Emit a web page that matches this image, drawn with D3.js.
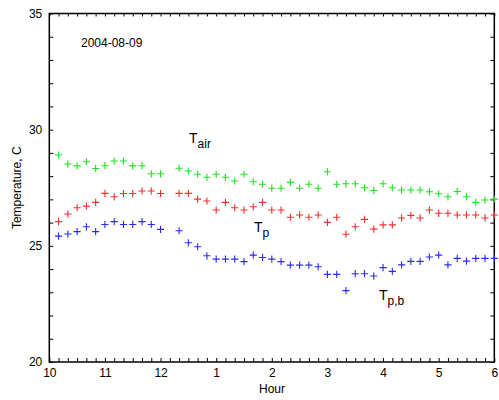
<!DOCTYPE html>
<html>
<head>
<meta charset="utf-8">
<script src="https://cdn.jsdelivr.net/npm/d3@7"></script>
<style>
	body { margin: 0; background: #fff; }
	svg { font-family: "Liberation Sans", Arial, sans-serif; }
	.tick text { font-size: 12px; fill: #000; }
</style>
</head>
<body>
<div class="wrapper"></div>
<script>

// clock times of the readings (10 min steps, 12:10 missing)
var times = ["10:10","10:20","10:30","10:40","10:50","11:00","11:10","11:20","11:30","11:40","11:50","12:00",
	"12:20","12:30","12:40","12:50","13:00","13:10","13:20","13:30","13:40","13:50","14:00","14:10",
	"14:20","14:30","14:40","14:50","15:00","15:10","15:20","15:30","15:40","15:50","16:00","16:10",
	"16:20","16:30","16:40","16:50","17:00","17:10","17:20","17:30","17:40","17:50","18:00"];

var tAir = [28.91,28.52,28.44,28.62,28.33,28.45,28.65,28.65,28.44,28.45,28.10,28.10,
	28.34,28.22,28.08,27.95,28.08,27.95,27.79,28.08,27.76,27.65,27.48,27.48,
	27.73,27.48,27.65,27.48,28.19,27.65,27.67,27.67,27.50,27.38,27.67,27.50,
	27.40,27.40,27.40,27.33,27.24,27.11,27.34,27.11,26.87,26.97,27.01];

var tP = [26.04,26.37,26.64,26.71,26.87,27.26,27.11,27.25,27.25,27.36,27.36,27.25,
	27.26,27.26,27.01,26.93,26.54,26.87,26.64,26.54,26.68,26.87,26.54,26.54,
	26.23,26.33,26.23,26.33,26.01,26.23,25.50,25.82,26.14,25.72,25.90,25.90,
	26.20,26.31,26.20,26.54,26.40,26.40,26.33,26.33,26.33,26.20,26.33];

var tPb = [25.42,25.51,25.61,25.82,25.61,25.92,26.04,25.92,25.92,26.04,25.92,25.71,
	25.65,25.13,24.96,24.57,24.43,24.43,24.43,24.32,24.60,24.50,24.43,24.32,
	24.17,24.17,24.17,24.10,23.77,23.77,23.07,23.80,23.80,23.70,24.06,23.90,
	24.18,24.33,24.33,24.52,24.60,24.18,24.46,24.34,24.46,24.46,24.46];

var series = [
	{name: "air", values: tAir, color: "#22e022"},
	{name: "p", values: tP, color: "#f03030"},
	{name: "pb", values: tPb, color: "#2a2af0"}
];

var W = 499, H = 400;
var X0 = 49.3, X1 = 494.3, Y0 = 13.5, Y1 = 362;

function toHour(s) {
	var p = s.split(":");
	return +p[0] + (+p[1]) / 60;
}

var x = d3.scaleLinear().domain([10, 18]).range([X0, X1]);
var y = d3.scaleLinear().domain([20, 35]).range([Y1, Y0]);

var svg = d3.select(".wrapper")
	.append("svg")
		.attr("width", W)
		.attr("height", H);

// 10-minute ticks along x
var xTicks = d3.range(0, 49).map(function(i) { return 10 + i / 6; });
var yTicks = d3.range(20, 36);

function hourLabel(d) {
	var r = Math.round(d * 6);
	if (r % 6 !== 0) return "";
	var h = r / 6;
	return String(h % 12 === 0 ? 12 : h % 12);
}

var xBottom = svg.append("g")
	.attr("transform", "translate(0," + Y1 + ")")
	.call(d3.axisBottom(x).tickValues(xTicks).tickSize(-4).tickPadding(8).tickFormat(hourLabel));

var xTop = svg.append("g")
	.attr("transform", "translate(0," + Y0 + ")")
	.call(d3.axisTop(x).tickValues(xTicks).tickSize(-3).tickFormat(""));

var yLeft = svg.append("g")
	.attr("transform", "translate(" + X0 + ",0)")
	.call(d3.axisLeft(y).tickValues(yTicks).tickSize(-4).tickPadding(7)
		.tickFormat(function(d) { return d % 5 === 0 ? d : ""; }));

var yRight = svg.append("g")
	.attr("transform", "translate(" + X1 + ",0)")
	.call(d3.axisRight(y).tickValues(yTicks).tickSize(-4).tickFormat(""));

svg.selectAll(".domain").remove();
svg.selectAll(".tick line").attr("stroke", "#000").attr("stroke-width", 1);
xBottom.selectAll(".tick text").attr("dy", "0.6em");

// frame
svg.append("rect")
	.attr("x", X0).attr("y", Y0)
	.attr("width", X1 - X0).attr("height", Y1 - Y0)
	.attr("fill", "none")
	.attr("stroke", "#000")
	.attr("stroke-width", 1.5);

// plus markers
var S = 3.6;
series.forEach(function(s) {
	var g = svg.append("g").attr("stroke", s.color).attr("stroke-width", 1.1);
	var pts = g.selectAll("path")
		.data(s.values)
		.enter()
		.append("path")
		.attr("d", function(d, i) {
			var cx = x(toHour(times[i])), cy = y(d);
			return "M" + (cx - S) + "," + cy + "H" + (cx + S) + "M" + cx + "," + (cy - S) + "V" + (cy + S);
		});
});

// labels
svg.append("text")
	.attr("x", 81).attr("y", 47)
	.attr("font-size", 12)
	.text("2004-08-09");

function tLabel(px, py, sub) {
	var t = svg.append("text").attr("x", px).attr("y", py).attr("font-size", 14);
	t.append("tspan").text("T");
	t.append("tspan").attr("dy", 5).attr("font-size", 12).text(sub);
}
tLabel(189, 143, "air");
tLabel(254, 232, "p");
tLabel(379, 300, "p,b");

svg.append("text")
	.attr("x", 272).attr("y", 393)
	.attr("text-anchor", "middle")
	.attr("font-size", 12)
	.text("Hour");

svg.append("text")
	.attr("transform", "translate(21," + ((Y0 + Y1) / 2) + ") rotate(-90)")
	.attr("text-anchor", "middle")
	.attr("font-size", 12)
	.text("Temperature, C");

</script>
</body>
</html>
